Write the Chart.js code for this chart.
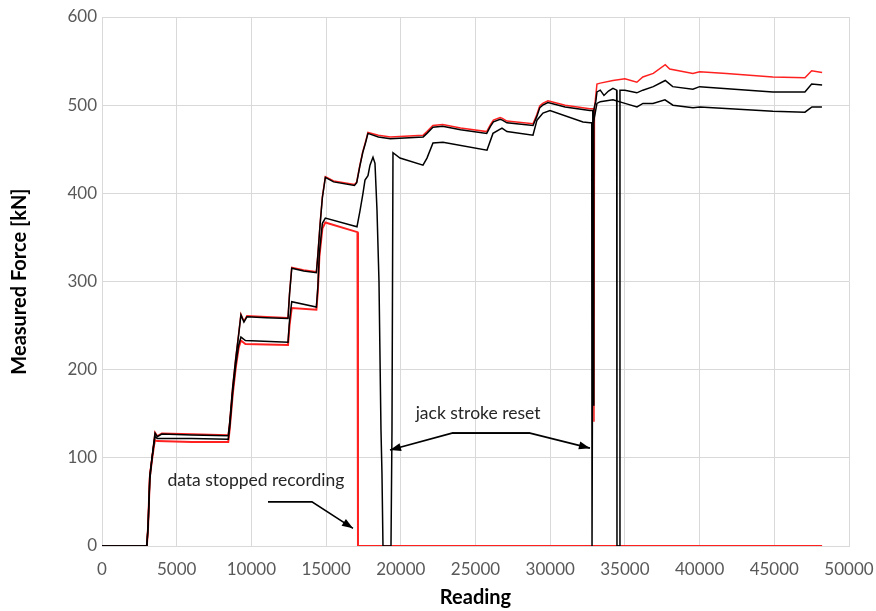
<!DOCTYPE html>
<html>
<head>
<meta charset="utf-8">
<script src="https://cdn.jsdelivr.net/npm/chart.js@4.4.1/dist/chart.umd.min.js"></script>
<style>
  html, body { margin: 0; padding: 0; background: #ffffff; }
  #wrap { width: 876px; height: 611px; }
</style>
</head>
<body>
<div id="wrap"><canvas id="c" width="876" height="611"></canvas></div>
<script>
// ---- axis ticks ----
const xTicks = [0, 5000, 10000, 15000, 20000, 25000, 30000, 35000, 40000, 45000, 50000];
const yTicks = [0, 100, 200, 300, 400, 500, 600];

// ---- black series (upper before reset) ----
const topX = [0,3000,3080,3200,3350,3480,3550,3700,4000,6000,8450,8550,8750,8950,9150,9300,9500,9700,11000,12450,12550,12700,13500,14350,14450,14600,14750,14950,15500,16900,17050,17250,17450,17650,17800,18500,19300,21500,21750,22150,22800,24000,25750,26000,26200,26650,26800,27100,28850,29100,29300,29500,29850,31000,32650,32850,32880,32920,32960,33050,33130,33350,33600,33900,34200,34450,34470,34650,34670,35000,35800,36200,36900,37700,38200,39550,40000,44900,47050,47500,48200];
const topY = [0,0,20,80,100,118,128,124,127,126,125,140,180,212,240,262,254,260,259,258,285,315,312,310,330,365,395,418,413,409,412,430,446,458,468,464,462,464,468,475,476,472,468,476,481,484,483,480,477,487,497,500,503,498,494,494,160,494,498,504,515,517,511,516,519,517,0,0,517,517,514,517,521,528,521,518,521,515,515,524,523];

// ---- red series (upper, overlaps black) ----
const rupX = [0,3000,3080,3200,3350,3480,3550,3700,4000,6000,8450,8550,8750,8950,9150,9300,9500,9700,11000,12450,12550,12700,13500,14350,14450,14600,14750,14950,15500,16900,17050,17250,17450,17650,17800,18500,19300,21500,21750,22150,22800,24000,25750,26000,26200,26650,26800,27100,28850,29100,29300,29500,29850,31000,32650,32900,32930,32960,33130,33350,34200,35000,35800,36200,36900,37700,38000,39550,40000,41800,44900,47050,47500,48200];
const rupY = [0,0,21,81,101,119,129,125,128,127,126,141,181,213,241,263,255,261,260,259,286,316,313,311,331,366,396,419,414,410,413,431,447,459,469,466,464,466,470,477,478,474,470,478,483,486,485,482,479,489,499,502,505,500,496,496,141,496,524,525,528,530,526,532,536,546,541,536,538,536,532,531,539,537];

// ---- black series (middle, with jack stroke resets) ----
const midX = [0,3000,3090,3200,3350,3480,3550,3700,6000,8450,8550,8750,8950,9150,9300,9600,12450,12550,12700,14350,14450,14550,14750,14950,17067,17268,17469,17603,17803,17937,18138,18272,18406,18540,18673,18740,18807,19343,19410,19477,19945,21485,21752,22154,22823,25768,26170,26772,27107,28847,29115,29516,29985,32194,32662,32780,32800,32860,32880,33000,33130,33350,34200,35004,35808,36209,36878,37681,38217,39556,40024,44910,47052,47520,48189];
const midY = [0,0,25,75,100,116,124,122,122,121,135,175,205,228,237,233,231,255,277,271,294,332,366,372,362,380,400,415,420,432,441,434,381,300,132,82,0,0,132,446,440,432,440,457,458,449,468,474,470,466,483,491,494,481,480,480,0,0,480,490,502,504,506,502,498,502,502,506,500,497,498,493,492,498,498];

// ---- red series (lower, stopped recording) ----
const rloX = [0,3000,3080,3200,3350,3480,3550,3700,6000,8450,8550,8750,8950,9150,9300,9600,12450,12550,12700,14350,14450,14550,14750,14950,17100,17134,48200];
const rloY = [0,0,20,78,98,114,120,119,118,118,133,172,202,225,233,229,228,250,270,268,290,328,360,367,356,0,0];

// ---- annotations (data coordinates) ----
const noteStopText = "data stopped recording";
const noteStopPos = [10300, 75];
const noteStopArrow = [[11110, 50], [14055, 50], [16800, 20]];
const noteJackText = "jack stroke reset";
const noteJackPos = [25170, 151];
const noteJackArrowL = [[28646, 128], [23426, 128], [19276, 109]];
const noteJackArrowR = [[23426, 128], [28646, 128], [32662, 111]];

function pts(xs, ys) { return xs.map((x, i) => ({ x: x, y: ys[i] })); }

const annoPlugin = {
  id: 'anno',
  afterDatasetsDraw(chart) {
    const ctx = chart.ctx, sx = chart.scales.x, sy = chart.scales.y;
    const P = p => [sx.getPixelForValue(p[0]), sy.getPixelForValue(p[1])];
    function arrow(list) {
      const q = list.map(P);
      ctx.save();
      ctx.strokeStyle = '#000'; ctx.fillStyle = '#000'; ctx.lineWidth = 1.6;
      ctx.beginPath(); ctx.moveTo(q[0][0], q[0][1]);
      for (let i = 1; i < q.length; i++) ctx.lineTo(q[i][0], q[i][1]);
      ctx.stroke();
      const a = q[q.length - 2], b = q[q.length - 1];
      const ang = Math.atan2(b[1] - a[1], b[0] - a[0]);
      const L = 11, W = 4;
      ctx.beginPath();
      ctx.moveTo(b[0], b[1]);
      ctx.lineTo(b[0] - L * Math.cos(ang) + W * Math.sin(ang), b[1] - L * Math.sin(ang) - W * Math.cos(ang));
      ctx.lineTo(b[0] - L * Math.cos(ang) - W * Math.sin(ang), b[1] - L * Math.sin(ang) + W * Math.cos(ang));
      ctx.closePath(); ctx.fill();
      ctx.restore();
    }
    arrow(noteStopArrow);
    arrow(noteJackArrowL);
    arrow(noteJackArrowR);
    ctx.save();
    ctx.fillStyle = '#262626';
    ctx.font = '17.5px Lato';
    ctx.textAlign = 'center'; ctx.textBaseline = 'middle';
    let p = P(noteStopPos); ctx.fillText(noteStopText, p[0], p[1]);
    p = P(noteJackPos); ctx.fillText(noteJackText, p[0], p[1]);
    ctx.restore();
  }
};

const common = { pointRadius: 0, borderWidth: 1.5, tension: 0, fill: false };

new Chart(document.getElementById('c'), {
  type: 'line',
  data: {
    datasets: [
      Object.assign({ label: 'top', data: pts(topX, topY), borderColor: '#000000' }, common),
      Object.assign({ label: 'mid', data: pts(midX, midY), borderColor: '#000000' }, common),
      Object.assign({ label: 'redUpper', data: pts(rupX, rupY), borderColor: '#ff2020' }, common),
      Object.assign({ label: 'redLower', data: pts(rloX, rloY), borderColor: '#ff2020' }, common, { borderWidth: 2 })
    ]
  },
  options: {
    responsive: false,
    animation: false,
    devicePixelRatio: 1,
    layout: { padding: { top: 17, right: 27, left: 0, bottom: 0 } },
    plugins: { legend: { display: false }, tooltip: { enabled: false } },
    scales: {
      x: {
        type: 'linear', min: 0, max: 50000,
        afterBuildTicks: s => { s.ticks = xTicks.map(v => ({ value: v })); },
        afterFit: s => { s.height = 65; s.paddingLeft = 0; s.paddingRight = 0; },
        grid: { color: '#d9d9d9', lineWidth: 1, drawTicks: false },
        border: { color: '#d9d9d9' },
        ticks: { color: '#595959', font: { family: 'Lato', size: 17 }, padding: 13, maxRotation: 0, callback: v => String(v) },
        title: { display: true, text: 'Reading', color: '#000', font: { family: 'Lato', size: 20, weight: 'bold' }, padding: { top: 0, bottom: 1 } }
      },
      y: {
        type: 'linear', min: 0, max: 600,
        afterBuildTicks: s => { s.ticks = yTicks.map(v => ({ value: v })); },
        afterFit: s => { s.width = 102; s.paddingTop = 0; s.paddingBottom = 0; },
        grid: { color: '#d9d9d9', lineWidth: 1, drawTicks: false },
        border: { color: '#d9d9d9' },
        ticks: { color: '#595959', font: { family: 'Lato', size: 17 }, padding: 5, callback: v => String(v) },
        title: { display: true, text: 'Measured Force [kN]', color: '#000', font: { family: 'Lato', size: 20, weight: 'bold' }, padding: { top: 8, bottom: 0 } }
      }
    }
  },
  plugins: [annoPlugin]
});
</script>
</body>
</html>
